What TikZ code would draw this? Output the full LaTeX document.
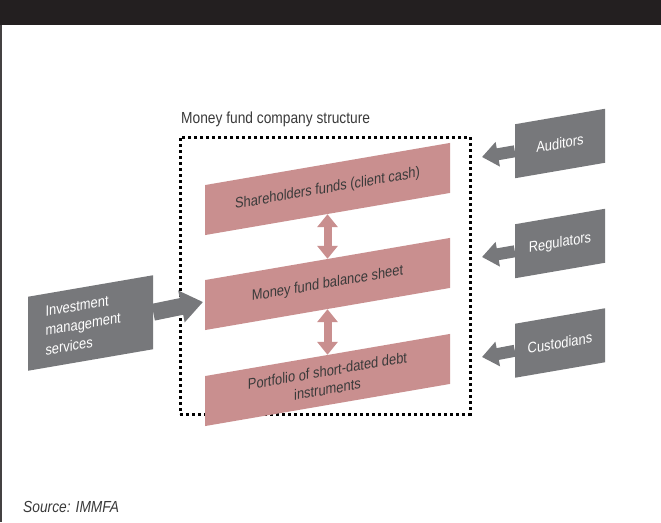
\documentclass[tikz,border=0pt]{standalone}
\usepackage{fontspec}
\setmainfont{Liberation Sans}[FakeStretch=0.86]
\usetikzlibrary{arrows.meta}
\definecolor{pinkc}{RGB}{201,143,143}
\definecolor{grayc}{RGB}{119,120,123}
\definecolor{barc}{RGB}{35,31,32}
\definecolor{txtc}{RGB}{58,58,58}
\begin{document}
\begin{tikzpicture}[x=1pt,y=-1pt,
  pinkbox/.style={fill=pinkc, minimum width=245pt, minimum height=50pt, inner sep=0pt,
    yslant=0.172, text=txtc, font=\fontsize{15}{18.5}\selectfont, align=center},
  graybox/.style={fill=grayc, minimum width=90pt, minimum height=54pt, inner sep=0pt,
    yslant=0.172, text=white, font=\fontsize{15}{17}\selectfont},
  dblarrow/.style={draw=pinkc, line width=8pt,
    {Triangle[width=20pt,length=13pt]}-{Triangle[width=20pt,length=13pt]}},
  grayarrow/.style={draw=grayc, line width=12pt, -{Triangle[width=24pt,length=16pt]}},
  bigarrow/.style={draw=grayc, line width=17pt, -{Triangle[width=31pt,length=22pt]}},
  dotframe/.style={draw=black, line width=3pt, dash pattern=on 3pt off 3pt,
    inner sep=0pt, minimum width=290pt, minimum height=277pt},
  labeltext/.style={text=txtc, inner sep=0pt}
]
\useasboundingbox (0,0) rectangle (661,522);
\fill[white] (0,0) rectangle (661,522);
\fill[barc] (0,0) rectangle (661,25);
\draw[barc!85, line width=2pt] (1,25) -- (1,522);

% dotted frame and its label
\node[dotframe] (frame) at (325,275.5) {};
\node[labeltext, anchor=base west, font=\fontsize{16}{18}\selectfont] (frlabel) at (181,123) {Money fund company structure};

% pink boxes
\node[pinkbox] (sh) at (327.5,189) {Shareholders funds (client cash)};
\node[pinkbox] (bs) at (327.5,284) {Money fund balance sheet};
\node[pinkbox] (pf) at (327.5,380) {Portfolio of short-dated debt\\instruments};

\draw[dblarrow] (sh.south) -- (bs.north);
\draw[dblarrow] (bs.south) -- (pf.north);

% gray boxes on the right
\node[graybox] (aud) at (560,143.5) {Auditors};
\node[graybox] (reg) at (560,243.5) {Regulators};
\node[graybox] (cus) at (560,343) {Custodians};
\coordinate (audtip) at (482,157);
\coordinate (regtip) at (482,257);
\coordinate (custip) at (482,357);
\draw[grayarrow] (aud.west) -- (audtip);
\draw[grayarrow] (reg.west) -- (regtip);
\draw[grayarrow] (cus.west) -- (custip);

% investment management services
\node[graybox, minimum width=125pt, minimum height=74pt, text width=90pt, align=left,
  font=\fontsize{15}{19.5}\selectfont] (inv) at (90.5,323) {Investment\\management\\services};
\coordinate (invtip) at (203,302);
\draw[bigarrow] (inv.east) -- (invtip);

% source
\node[labeltext, anchor=base west, font=\fontsize{16}{18}\selectfont\itshape] (src) at (23,512) {Source: IMMFA};
\end{tikzpicture}
\end{document}
